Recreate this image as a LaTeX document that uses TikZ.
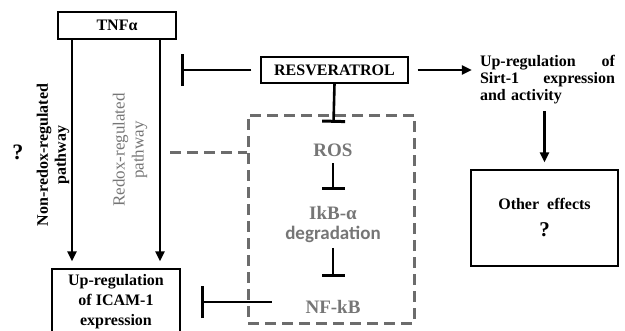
\documentclass[tikz,border=0pt]{standalone}
\usepackage{fontspec}
\setmainfont{Liberation Serif}
\newfontfamily\carlito{Carlito}
\usepackage{tikz}
\usetikzlibrary{positioning}
\usetikzlibrary{arrows.meta}
\definecolor{redoxgray}{RGB}{118,118,118}
\definecolor{dashgray}{RGB}{108,108,108}
\tikzset{box/.style={draw,line width=1.3pt,inner sep=0pt,align=center,font=\bfseries\fontsize{16}{20}\selectfont}}
\tikzset{act/.style={line width=2.6pt,-{Triangle[length=10pt,width=9pt]}}}
\tikzset{inhib/.style={line width=2.6pt,-{Bar[width=#1,line width=3pt]}},inhib/.default=23pt}
\tikzset{redox/.style={text=redoxgray,inner sep=0pt,align=center,font=\bfseries\fontsize{19}{20}\selectfont}}
\tikzset{dashline/.style={draw=dashgray,line width=3pt,dash pattern=on 11pt off 6pt}}

\begin{document}
\begin{tikzpicture}[x=1pt,y=-1pt]
\useasboundingbox (0,0) rectangle (625,330);
\node[box,minimum width=118pt,minimum height=27pt] (tnf) at (117,25.5) {TNFα};
\node[box,minimum width=147pt,minimum height=26pt] (resv) at (334.5,70) {RESVERATROL};
\node[inner sep=0pt,text width=135pt,align=left,font=\bfseries\fontsize{16}{17}\selectfont] (sirt) at (547.5,79.5) {Up-regulation\hfill of\\Sirt-1\hfill expression\\and activity};
\node[box,minimum width=147pt,minimum height=96pt] (other) at (544.5,218) {Other\ \ effects\\[7pt]{\fontsize{21}{21}\selectfont ?}};
\node[box,minimum width=128pt,minimum height=66pt] (icam) at (116,302) {Up-regulation\\of ICAM-1\\expression};
% redox-regulated part
\node[dashline,minimum width=166pt,minimum height=208pt] (rbox) at (331,219) {};
\node[redox,text height=13pt,text depth=0pt] (ros) at (333,150) {ROS};
\node[redox] (ikb) at (333,224.5) {IkB-α\\{\carlito degradation}};
\node[redox,text height=13pt,text depth=0pt] (nfkb) at (333,307) {NF-kB};
% pathway labels
\node[rotate=90,align=center,font=\bfseries\fontsize{16}{18}\selectfont] (nonredox) at (53,155) {Non-redox-regulated\\pathway};
\node[rotate=90,align=center,text=redoxgray,font=\fontsize{17}{19}\selectfont] (redoxlab) at (130,150) {Redox-regulated\\pathway};
\node[font=\bfseries\fontsize{22}{22}\selectfont] (quest) at (18,152) {?};
\coordinate (nrx) at (72,0);
\coordinate (rx) at (160,0);
\coordinate (tnfhit) at (181,70);
\coordinate (redoxend) at (170,152);
\draw[act,shorten >=7pt] (tnf.south -| nrx) -- (icam.north -| nrx);
\draw[act,shorten >=7pt] (tnf.south -| rx) -- (icam.north -| rx);
\draw[inhib=32pt,shorten <=9pt] (resv.west) -- (tnfhit);
\draw[act,shorten <=9pt,shorten >=8pt] (resv.east) -- (sirt.west |- resv.east);
\draw[act,shorten <=7pt,shorten >=7pt] (sirt.south -| other.north) -- (other.north);
\draw[inhib,shorten >=20.5pt] (resv.south) -- (ros.north);
\draw[inhib,shorten <=6.5pt,shorten >=16pt] (ros.south) -- (ikb.north);
\draw[inhib,shorten <=5pt,shorten >=23.5pt] (ikb.south) -- (nfkb.north);
\draw[inhib=32pt,shorten <=33.5pt,shorten >=20pt] (nfkb.west |- icam.east) -- (icam.east);
\draw[dashline] (redoxend) -- (redoxend -| rbox.west);
\end{tikzpicture}
\end{document}
